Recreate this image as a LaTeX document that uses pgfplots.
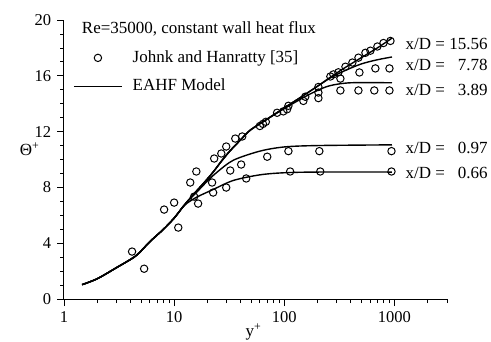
\documentclass[border=0pt]{standalone}
\usepackage{fontspec}
\setmainfont{Liberation Serif}
\usepackage{pgfplots}
\pgfplotsset{compat=1.18}
\pgfplotsset{
  marklegend/.style={legend image code/.code={\draw[mark repeat=2,mark phase=2,##1] plot coordinates {(0pt,0pt) (24pt,0pt) (48pt,0pt)};}},
  linelegend/.style={legend image code/.code={\draw[##1] (0pt,0pt) -- (48pt,0pt);}},
}
\begin{document}
\fontsize{17}{19}\selectfont
\begin{tikzpicture}
\begin{axis}[
  scale only axis, width=383pt, height=279pt,
  xmode=log, xmin=1, xmax=3000, ymin=0, ymax=20,
  axis x line*=bottom, axis y line*=left,
  axis line style={line width=1pt},
  tick align=outside, tick style={black, line width=0.8pt},
  major tick length=7pt, minor tick length=4pt,
  xtick={1,10,100,1000}, xticklabels={1,10,100,1000},
  minor xtick={2,3,4,5,6,7,8,9,20,30,40,50,60,70,80,90,200,300,400,500,600,700,800,900,2000,3000},
  ytick={0,4,8,12,16,20}, minor ytick={1,2,3,5,6,7,9,10,11,13,14,15,17,18,19},
  /pgf/number format/assume math mode=true,
  ticklabel style={font=\fontsize{16.5}{18}\selectfont},
  clip=false,
  xlabel={y\textsuperscript{+}},
  x label style={at={(axis description cs:0.495,-0.118)}, anchor=center},
  ylabel={Θ\textsuperscript{+}},
  y label style={at={(axis description cs:-0.09,0.538)}, anchor=center, rotate=-90},
  legend style={draw=none, fill=none, at={(axis description cs:0.021,0.905)}, anchor=north west,
    font=\fontsize{17}{19}\selectfont, row sep=10pt, inner xsep=1pt,
    nodes={inner xsep=10pt}},
  legend cell align=left,
]
\addplot[only marks, mark=o, mark size=3.7pt, line width=1pt, marklegend]
 coordinates {
 (4.15,3.40) (5.34,2.17) (8.11,6.41) (10.0,6.91) (10.9,5.12)
 (14.0,8.35) (15.9,9.14) (15.2,7.34) (16.5,6.84) (22.1,8.35) (22.6,7.63)
 (29.7,7.99) (45.1,8.64) (32.3,9.21) (40.6,9.64)
 (23.1,10.07) (26.8,10.43) (29.7,10.93) (35.9,11.5) (41.5,11.65)
 (70,10.2) (109,10.6) (208,10.6) (940,10.6)
 (113,9.14) (212,9.14) (940,9.14)
 (60,12.4) (64,12.55) (68,12.7)
 (86,13.35) (98,13.45) (106,13.6) (109,13.85)
 (149,14.2) (155,14.5)
 (204,14.4) (204,14.8) (204,15.2)
 (262,15.95) (279,16.1) (310,16.25) (359,16.65) (415,16.95) (471,17.3)
 (545,17.65) (605,17.8) (700,18.1) (795,18.35) (920,18.5)
 (323,15.8) (481,16.24) (671,16.53) (901,16.53)
 (323,14.95) (471,14.95) (656,14.95) (901,14.95)
 };
\addlegendentry{Johnk and Hanratty [35]}
\addplot[smooth, tension=0.5, line width=1.4pt, linelegend]
 coordinates {(1.46,1.03) (2,1.45) (3,2.25) (4.5,3.1) (6,4.1) (8,5.0) (10,5.8) (12,6.6)
 (15,7.5) (19,8.4) (22.6,9.1) (27,9.9) (32,10.6) (40,11.4) (49,12.1) (70,12.9) (100,13.7)
 (150,14.6) (200,15.25) (262,15.9) (350,16.55) (500,17.3) (700,18.0) (950,18.7)};
\addlegendentry{EAHF Model}
\addplot[smooth, tension=0.5, line width=1.4pt, forget plot]
 coordinates {(1.46,1.03) (2,1.45) (3,2.25) (4.5,3.1) (6,4.1) (8,5.0) (10,5.8) (12,6.6)
 (15,7.5) (19,8.4) (22.6,9.1) (27,9.9) (32,10.6) (40,11.4) (49,12.1) (70,12.9) (100,13.7)
 (150,14.6) (200,15.25) (262,15.85) (350,16.35) (500,16.85) (700,17.15) (950,17.35)};
\addplot[smooth, tension=0.5, line width=1.4pt, forget plot]
 coordinates {(1.46,1.03) (2,1.45) (3,2.25) (4.5,3.1) (6,4.1) (8,5.0) (10,5.8) (12,6.6)
 (15,7.5) (19,8.4) (22.6,9.1) (27,9.9) (32,10.6) (40,11.4) (49,12.1) (70,12.9) (100,13.65)
 (150,14.45) (200,14.95) (262,15.3) (400,15.5) (950,15.5)};
\addplot[smooth, tension=0.5, line width=1.4pt, forget plot]
 coordinates {(1.46,1.03) (2,1.45) (3,2.25) (4.5,3.1) (6,4.1) (8,5.0) (10,5.8) (12,6.6)
 (13,6.95) (16,7.65) (20,8.45) (24.6,9.1) (34.5,9.95) (60,10.6) (100,10.9) (200,11.0) (950,11.05)};
\addplot[smooth, tension=0.5, line width=1.4pt, forget plot]
 coordinates {(1.46,1.03) (2,1.45) (3,2.25) (4.5,3.1) (6,4.1) (8,5.0) (10,5.8) (12,6.6)
 (13,6.85) (16,7.3) (22.6,7.85) (34.5,8.5) (60,8.9) (100,9.05) (200,9.1) (950,9.1)};
\node[anchor=west, inner sep=0pt] at (axis cs:1.45,19.4) {Re=35000, constant wall heat flux};
\node[anchor=west, inner sep=0pt] at (axis cs:1260,18.3) {x/D = 15.56};
\node[anchor=west, inner sep=0pt] at (axis cs:1260,16.75) {x/D = \phantom{1}7.78};
\node[anchor=west, inner sep=0pt] at (axis cs:1260,15.0) {x/D = \phantom{1}3.89};
\node[anchor=west, inner sep=0pt] at (axis cs:1260,10.85) {x/D = \phantom{1}0.97};
\node[anchor=west, inner sep=0pt] at (axis cs:1260,9.05) {x/D = \phantom{1}0.66};
\end{axis}
\pgfresetboundingbox
\useasboundingbox (-64pt,-42pt) rectangle (427pt,299pt);
\end{tikzpicture}
\end{document}
